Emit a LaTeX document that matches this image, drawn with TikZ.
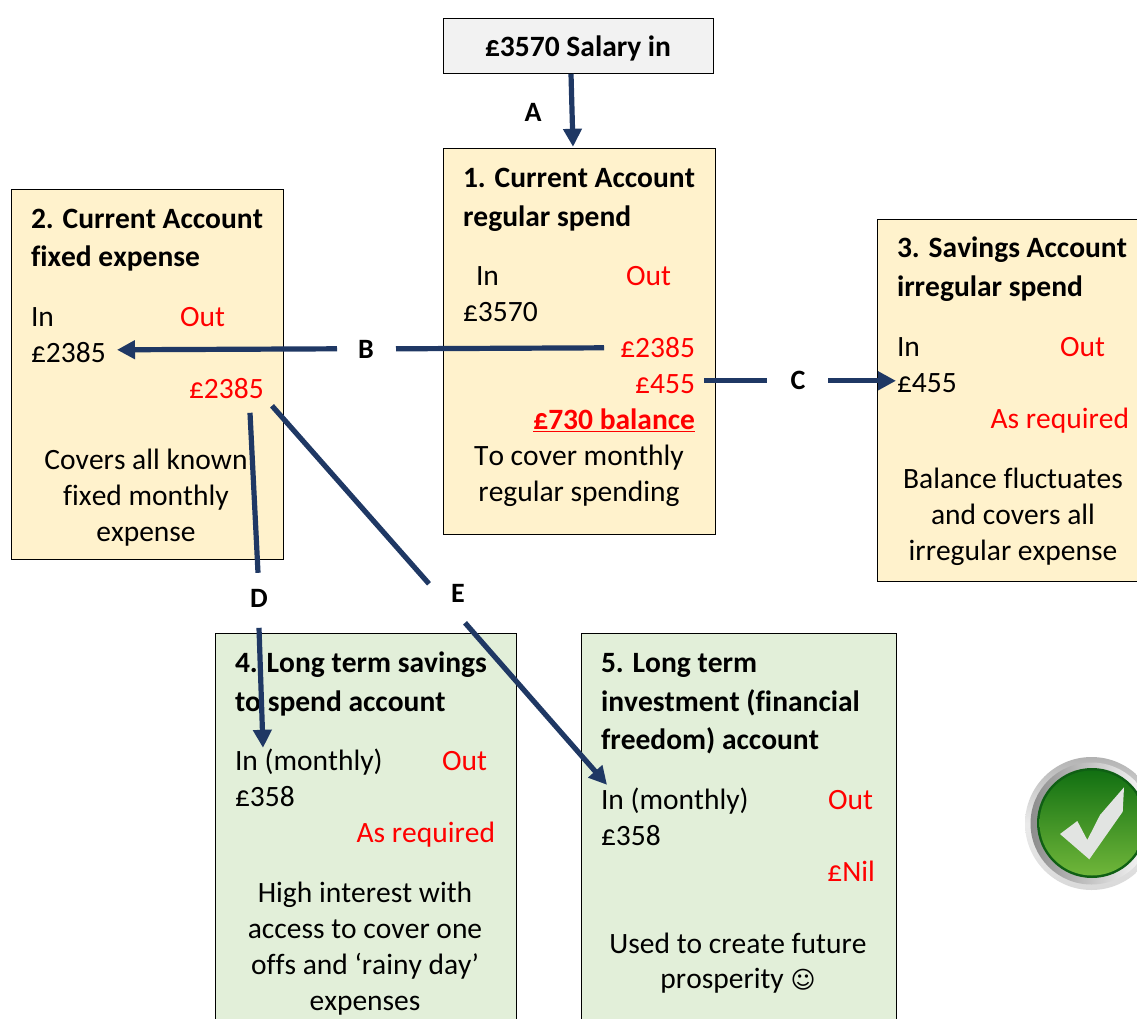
\documentclass[tikz,border=0pt]{standalone}
\usepackage{fontspec}
\setmainfont[Ligatures=CommonOff,Kerning=Off]{Carlito}
\newfontfamily\symfont{DejaVu Sans}
\usetikzlibrary{arrows.meta}
\definecolor{arrowblue}{HTML}{1F3864}
\definecolor{cream}{HTML}{FFF2CC}
\definecolor{sage}{HTML}{E2EFD9}
\definecolor{redtxt}{HTML}{FF0000}
\definecolor{gtop}{RGB}{18,112,18}
\definecolor{gmid}{RGB}{45,145,30}
\definecolor{gbot}{RGB}{112,182,58}
\definecolor{gedge}{RGB}{15,95,20}
\definecolor{tickc}{RGB}{226,228,226}
\tikzset{
  every node/.style={inner sep=0pt,outer sep=0pt,yshift=-0.8pt,font=\fontsize{29.5}{34}\selectfont},
  L/.style={anchor=base west},
  R/.style={anchor=base east},
  C/.style={anchor=base},
  B/.style={font=\fontsize{29.5}{34}\selectfont\bfseries},
  red/.style={text=redtxt},
  boxy/.style={draw=black,line width=0.9pt},
  yellowbox/.style={boxy,fill=cream},
  greenbox/.style={boxy,fill=sage},
  flow/.style={draw=arrowblue,line width=5.2pt},
  flowarrow/.style={flow,-{Triangle[length=18pt,width=18pt]}},
  letter/.style={font=\fontsize{28}{32}\selectfont\bfseries,anchor=base},
}
\begin{document}
\begin{tikzpicture}[x=1pt,y=-1pt]
\useasboundingbox (0,0) rectangle (1137,1019);
\clip (0,0) rectangle (1137,1019);
% boxes
\path[boxy,fill=black!5] (443,18) rectangle (713,73);
\path[yellowbox] (443,148) rectangle (715,534);
\path[yellowbox] (11,189) rectangle (283,559);
\path[yellowbox] (877,219) rectangle (1150,581);
\path[greenbox] (215,633) rectangle (516,1040);
\path[greenbox] (581,633) rectangle (896,1040);
% salary
\node[C,B] (salary) at (578,56) {£3570 Salary in};
% box 1
\node[L,B] (t1a) at (463,187) {1. Current Account};
\node[L,B] (t1b) at (463,226) {regular spend};
\node[L] (in1) at (476,285) {In};
\node[L,red] (out1) at (626,285) {Out};
\node[L] (v1) at (463,321) {£3570};
\node[R,red] (o1a) at (695,357) {£2385};
\node[R,red] (o1b) at (695,393) {£455};
\node[R,red,B] (bal) at (695,429) {\underline{£730 balance}};
\node[C] (d1a) at (579,465) {To cover monthly};
\node[C] (d1b) at (579,501) {regular spending};
% box 2
\node[L,B] (t2a) at (31,228) {2. Current Account};
\node[L,B] (t2b) at (31,266) {fixed expense};
\node[L] (in2) at (31,326) {In};
\node[L,red] (out2) at (180,326) {Out};
\node[L] (v2) at (31,362) {£2385};
\node[L,red] (o2) at (189,398) {£2385};
\node[C] (d2a) at (146,469) {Covers all known};
\node[C] (d2b) at (146,505) {fixed monthly};
\node[C] (d2c) at (146,541) {expense};
% box 3
\node[L,B] (t3a) at (897,257) {3. Savings Account};
\node[L,B] (t3b) at (897,296) {irregular spend};
\node[L] (in3) at (897,356) {In};
\node[L,red] (out3) at (1060,356) {Out};
\node[L] (v3) at (897,392) {£455};
\node[R,red] (o3) at (1129,428) {As required};
\node[C] (d3a) at (1013,488) {Balance fluctuates};
\node[C] (d3b) at (1013,524) {and covers all};
\node[C] (d3c) at (1013,560) {irregular expense};
% box 4
\node[L,B] (t4a) at (235,672) {4. Long term savings};
\node[L,B] (t4b) at (235,711) {to spend account};
\node[L] (in4) at (235,770) {In (monthly)};
\node[L,red] (out4) at (442,770) {Out};
\node[L] (v4) at (235,806) {£358};
\node[R,red] (o4) at (495,842) {As required};
\node[C] (d4a) at (365,902) {High interest with};
\node[C] (d4b) at (365,938) {access to cover one};
\node[C] (d4c) at (365,974) {offs and ‘rainy day’};
\node[C] (d4d) at (365,1010) {expenses};
% box 5
\node[L,B] (t5a) at (601,672) {5. Long term};
\node[L,B] (t5b) at (601,711) {investment (financial};
\node[L,B] (t5c) at (601,749) {freedom) account};
\node[L] (in5) at (601,809) {In (monthly)};
\node[L,red] (out5) at (828,809) {Out};
\node[L] (v5) at (601,845) {£358};
\node[R,red] (o5) at (875,881) {£Nil};
\node[C] (d5a) at (738,953) {Used to create future};
\node[C] (d5b) at (738,988) {prosperity {\symfont\fontsize{24}{28}\selectfont ☺}};
% letters
\node[letter] (la) at (533,120.5) {A};
\node[letter] (lb) at (366,357.5) {B};
\node[letter] (lc) at (798,388.5) {C};
\node[letter] (ld) at (259,606.5) {D};
\node[letter] (le) at (458,602) {E};
% connector ends
\coordinate (as) at (571,73);
\coordinate (ae) at (573,146);
\coordinate (bs) at (604,347);
\coordinate (b1) at (396,348);
\coordinate (b2) at (337,348);
\coordinate (be) at (117,349);
\coordinate (cs) at (704,380);
\coordinate (c1) at (767,380);
\coordinate (c2) at (828,380);
\coordinate (ce) at (896,380);
\coordinate (ds) at (250,412);
\coordinate (d1) at (258,572);
\coordinate (d2) at (259,627);
\coordinate (de) at (263,747);
\coordinate (es) at (272,405);
\coordinate (e1) at (429,583);
\coordinate (e2) at (465,622);
\coordinate (ee) at (607,784);
\draw[flowarrow] (as) -- (ae);
\draw[flow] (bs) -- (b1);
\draw[flowarrow] (b2) -- (be);
\draw[flow] (cs) -- (c1);
\draw[flowarrow] (c2) -- (ce);
\draw[flow] (ds) -- (d1);
\draw[flowarrow] (d2) -- (de);
\draw[flow] (es) -- (e1);
\draw[flowarrow] (e2) -- (ee);
% tick badge
\shade[top color=black!30,bottom color=black!15,middle color=black!8] (1091.5,823.5) circle (66.5);
\shade[left color=black!45,right color=white] (1091.5,823.5) circle (61);
\fill[gedge] (1092,823) circle (55);
\shade[top color=gtop,middle color=gmid,bottom color=gbot] (1092,823) circle (52.5);
\fill[tickc] (1060,834) -- (1077.3,821) -- (1087.3,840) -- (1100,815) -- (1124,787.3) -- (1122.7,811.7) -- (1089.3,859.3) -- cycle;
\end{tikzpicture}
\end{document}
